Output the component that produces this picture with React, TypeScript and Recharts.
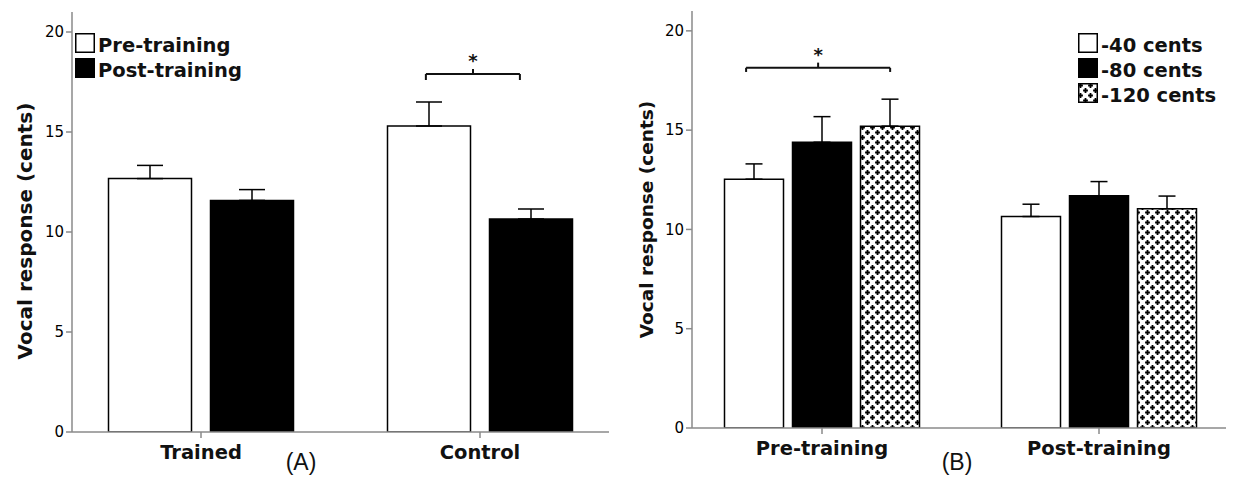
import {
  BarChart,
  Bar,
  XAxis,
  YAxis,
  ErrorBar,
  ReferenceLine,
  ReferenceDot,
  Legend,
  Label,
} from 'recharts';

const FONT = '"DejaVu Sans", Verdana, sans-serif';
const TAG_FONT = '"Liberation Sans", Arial, sans-serif';
const FRAME = '#8a8a8a';
const INK = '#111';

// (A) trained vs control group
const groupsA = ['Trained', 'Control'];
const preTraining = [12.67, 15.3];
const preTrainingErr = [0.66, 1.2];
const postTraining = [11.58, 10.65];
const postTrainingErr = [0.54, 0.5];
const legendA = ['Pre-training', 'Post-training'];

// (B) perturbation size, before and after training
const phasesB = ['Pre-training', 'Post-training'];
const cents40 = [12.53, 10.65];
const cents40Err = [0.77, 0.62];
const cents80 = [14.39, 11.69];
const cents80Err = [1.29, 0.72];
const cents120 = [15.2, 11.04];
const cents120Err = [1.36, 0.64];
const legendB = ['-40 cents', '-80 cents', '-120 cents'];

const yTicks = [0, 5, 10, 15, 20];
const yMax = 21;

// significance brackets: ends as a fraction of the category range (0..1), heights in cents
const bracketA = { x1: 0.653, x2: 0.8215, xm: 0.7375, y: 17.9, drop: 0.3, rise: 0.25, star: 18.23 };
const bracketB = { x1: 0.113, x2: 0.373, xm: 0.243, y: 18.14, drop: 0.21, rise: 0.26, star: 18.49 };

const dataA = groupsA.map((name, i) => ({
  name,
  pre: preTraining[i],
  preErr: [0, preTrainingErr[i]],
  post: postTraining[i],
  postErr: [0, postTrainingErr[i]],
}));

const dataB = phasesB.map((name, i) => ({
  name,
  c40: cents40[i],
  c40Err: [0, cents40Err[i]],
  c80: cents80[i],
  c80Err: [0, cents80Err[i]],
  c120: cents120[i],
  c120Err: [0, cents120Err[i]],
}));

const PlusPattern = ({ id }: { id: string }) => (
  <pattern id={id} width={10} height={10} patternUnits="userSpaceOnUse">
    <rect width={10} height={10} fill="#fff" />
    <path
      d="M0.1 2.5H4.9M2.5 0.1V4.9M5.1 7.5H9.9M7.5 5.1V9.9"
      stroke="#000"
      strokeWidth={1.8}
    />
  </pattern>
);

const axisTitle = (dx: number, dy: number, size: number) => (props: any) => {
  const vb = props.viewBox;
  const cx = vb.x + dx;
  const cy = vb.y + vb.height / 2 + dy;
  return (
    <text
      x={cx}
      y={cy}
      transform={`rotate(-90 ${cx} ${cy})`}
      textAnchor="middle"
      dominantBaseline="central"
      fontFamily={FONT}
      fontWeight="bold"
      fontSize={size}
      fill={INK}
    >
      Vocal response (cents)
    </text>
  );
};

const panelTag = (text: string, dx: number, dy: number) => (props: any) => {
  const vb = props.viewBox;
  return (
    <text
      x={vb.x + vb.width / 2 + dx}
      y={vb.y + dy}
      textAnchor="middle"
      fontFamily={TAG_FONT}
      fontSize={23}
      fill={INK}
    >
      {text}
    </text>
  );
};

const Star = (props: any) => (
  <text
    x={props.cx}
    y={props.cy}
    textAnchor="middle"
    fontFamily={FONT}
    fontWeight="bold"
    fontSize={18}
    fill={INK}
  >
    *
  </text>
);

const bracket = (b: typeof bracketA) => [
  <ReferenceLine
    key="h"
    xAxisId="idx"
    segment={[{ x: b.x1, y: b.y }, { x: b.x2, y: b.y }]}
    stroke={INK}
    strokeWidth={2}
  />,
  <ReferenceLine
    key="l"
    xAxisId="idx"
    segment={[{ x: b.x1, y: b.y }, { x: b.x1, y: b.y - b.drop }]}
    stroke={INK}
    strokeWidth={2}
  />,
  <ReferenceLine
    key="r"
    xAxisId="idx"
    segment={[{ x: b.x2, y: b.y }, { x: b.x2, y: b.y - b.drop }]}
    stroke={INK}
    strokeWidth={2}
  />,
  <ReferenceLine
    key="m"
    xAxisId="idx"
    segment={[{ x: b.xm, y: b.y }, { x: b.xm, y: b.y + b.rise }]}
    stroke={INK}
    strokeWidth={2}
  />,
  <ReferenceDot key="s" xAxisId="idx" x={b.xm} y={b.star} r={0} shape={Star} />,
];

const LegendBox = ({ labels, fills }: { labels: string[]; fills: string[] }) => (
  <div style={{ fontFamily: FONT, fontWeight: 'bold', fontSize: 19.5, color: INK }}>
    <svg width={0} height={0} style={{ position: 'absolute' }}>
      <defs>
        <PlusPattern id="plusSwatch" />
      </defs>
    </svg>
    {labels.map((label, i) => (
      <div key={label} style={{ position: 'relative', height: 25, width: 140 }}>
        <svg width={20} height={20} style={{ position: 'absolute', left: 0, top: 0 }}>
          <rect x={0.75} y={0.75} width={18.5} height={18.5} fill={fills[i]} stroke="#000" strokeWidth={1.5} />
        </svg>
        <span
          style={{
            position: 'absolute',
            left: 23,
            top: 3,
            lineHeight: '20px',
            whiteSpace: 'nowrap',
          }}
        >
          {label}
        </span>
      </div>
    ))}
  </div>
);

const frameProps = { stroke: FRAME, strokeWidth: 1.5 };
const yTick = { fontSize: 15, fill: '#000', fontFamily: FONT };
const xTick = { fontSize: 19.5, fontWeight: 'bold', fill: INK, fontFamily: FONT };

function PanelA() {
  const pad = { left: -10.5, right: -10.5 };
  return (
    <BarChart
      width={615}
      height={479}
      data={dataA}
      margin={{ top: 12, right: 6, bottom: 7, left: 22 }}
      barGap={19}
    >
      <XAxis
        dataKey="name"
        height={40}
        padding={pad}
        tickSize={6}
        tickMargin={7}
        tick={xTick}
        tickLine={frameProps}
        axisLine={frameProps}
        label={<Label content={panelTag('(A)', -39.5, 38)} />}
      />
      <XAxis
        xAxisId="idx"
        type="number"
        domain={[0, 1]}
        allowDataOverflow
        orientation="top"
        height={0}
        padding={pad}
        tick={false}
        tickLine={false}
        axisLine={frameProps}
      />
      <YAxis
        domain={[0, yMax]}
        ticks={yTicks}
        interval={0}
        allowDataOverflow
        width={50}
        tickSize={6}
        tickMargin={2}
        tick={yTick}
        tickLine={frameProps}
        axisLine={frameProps}
        label={<Label content={axisTitle(3, 9, 20)} />}
      />
      <YAxis
        yAxisId="r"
        orientation="right"
        width={0}
        tick={false}
        tickLine={false}
        axisLine={frameProps}
      />
      <Legend
        layout="vertical"
        align="center"
        verticalAlign="middle"
        wrapperStyle={{ left: 75, top: 33, width: 'auto' }}
        content={() => <LegendBox labels={legendA} fills={['#fff', '#000']} />}
      />
      <Bar dataKey="pre" name={legendA[0]} fill="#fff" stroke="#000" strokeWidth={1.5} barSize={83} isAnimationActive={false}>
        <ErrorBar dataKey="preErr" width={13} stroke="#000" strokeWidth={1.5} />
      </Bar>
      <Bar dataKey="post" name={legendA[1]} fill="#000" stroke="#000" strokeWidth={1.5} barSize={83} isAnimationActive={false}>
        <ErrorBar dataKey="postErr" width={13} stroke="#000" strokeWidth={1.5} />
      </Bar>
      {bracket(bracketA)}
    </BarChart>
  );
}

function PanelB() {
  const pad = { left: -8.5, right: -11.5 };
  return (
    <BarChart
      width={620}
      height={479}
      data={dataB}
      margin={{ top: 11, right: 9, bottom: 11, left: 27 }}
      barGap={9}
    >
      <defs>
        <PlusPattern id="plusFill" />
      </defs>
      <XAxis
        dataKey="name"
        height={40}
        padding={pad}
        tickSize={6}
        tickMargin={7}
        tick={xTick}
        tickLine={frameProps}
        axisLine={frameProps}
        label={<Label content={panelTag('(B)', -2, 42)} />}
      />
      <XAxis
        xAxisId="idx"
        type="number"
        domain={[0, 1]}
        allowDataOverflow
        orientation="top"
        height={0}
        padding={pad}
        tick={false}
        tickLine={false}
        axisLine={frameProps}
      />
      <YAxis
        domain={[0, yMax]}
        ticks={yTicks}
        interval={0}
        allowDataOverflow
        width={50}
        tickSize={6}
        tickMargin={2}
        tick={yTick}
        tickLine={frameProps}
        axisLine={frameProps}
        label={<Label content={axisTitle(4, 0, 18.5)} />}
      />
      <YAxis
        yAxisId="r"
        orientation="right"
        width={0}
        tick={false}
        tickLine={false}
        axisLine={frameProps}
      />
      <Legend
        layout="vertical"
        align="center"
        verticalAlign="middle"
        wrapperStyle={{ left: 463, top: 33, width: 'auto' }}
        content={() => <LegendBox labels={legendB} fills={['#fff', '#000', 'url(#plusSwatch)']} />}
      />
      <Bar dataKey="c40" name={legendB[0]} fill="#fff" stroke="#000" strokeWidth={1.5} barSize={59} isAnimationActive={false}>
        <ErrorBar dataKey="c40Err" width={8.5} stroke="#000" strokeWidth={1.5} />
      </Bar>
      <Bar dataKey="c80" name={legendB[1]} fill="#000" stroke="#000" strokeWidth={1.5} barSize={59} isAnimationActive={false}>
        <ErrorBar dataKey="c80Err" width={8.5} stroke="#000" strokeWidth={1.5} />
      </Bar>
      <Bar dataKey="c120" name={legendB[2]} fill="url(#plusFill)" stroke="#000" strokeWidth={1.5} barSize={59} isAnimationActive={false}>
        <ErrorBar dataKey="c120Err" width={8.5} stroke="#000" strokeWidth={1.5} />
      </Bar>
      {bracket(bracketB)}
    </BarChart>
  );
}

export default function App() {
  return (
    <div style={{ position: 'absolute', left: 0, top: 0, width: 1235, height: 479, background: '#fff' }}>
      <div style={{ position: 'absolute', left: 0, top: 0 }}>
        <PanelA />
      </div>
      <div style={{ position: 'absolute', left: 615, top: 0 }}>
        <PanelB />
      </div>
    </div>
  );
}
